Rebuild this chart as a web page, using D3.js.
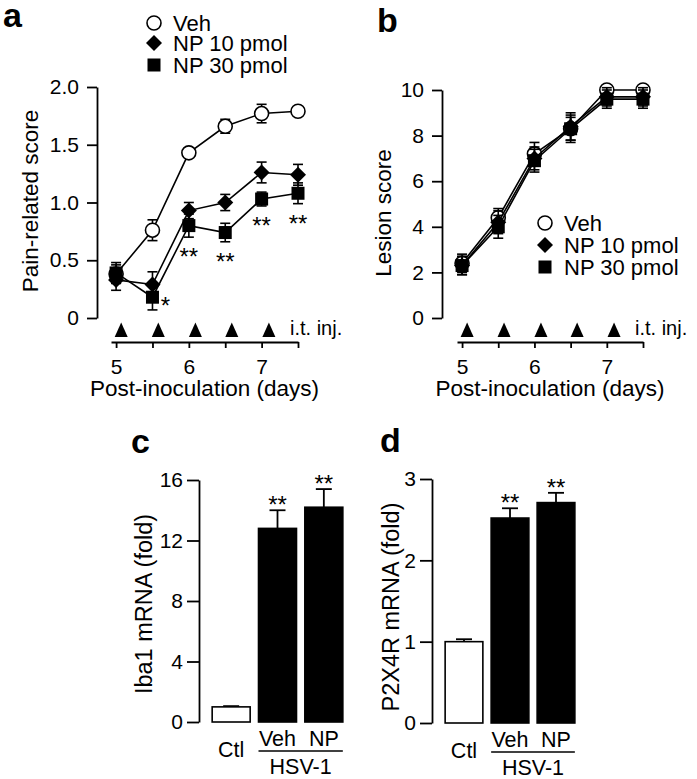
<!DOCTYPE html>
<html>
<head>
<meta charset="utf-8">
<script src="https://cdn.jsdelivr.net/npm/d3@7"></script>
<style>
  body { margin: 0; background: #fff; }
  svg text { font-family: "Liberation Sans", Arial, Helvetica, sans-serif; fill: #000; }
</style>
</head>
<body>
<svg width="697" height="779"></svg>
<script>
// ---- data ----
const days = [5, 5.5, 6, 6.5, 7, 7.5];
const injDays = [5.07, 5.58, 6.09, 6.59, 7.1];
const groups = ["Veh", "NP 10 pmol", "NP 30 pmol"];

const painVeh = [0.38, 0.76, 1.43, 1.66, 1.77, 1.79];
const painVehErr = [0.08, 0.09, 0.03, 0.06, 0.08, 0.03];
const painNP10 = [0.33, 0.29, 0.93, 1.0, 1.26, 1.24];
const painNP10Err = [0.09, 0.11, 0.07, 0.07, 0.09, 0.09];
const painNP30 = [0.39, 0.18, 0.8, 0.74, 1.03, 1.08];
const painNP30Err = [0.09, 0.11, 0.1, 0.08, 0.06, 0.09];
const painStars = ["", "*", "**", "**", "**", "**"];
const painTicks = [0, 0.5, 1, 1.5, 2];
const painTickLabels = ["0", "0.5", "1.0", "1.5", "2.0"];

const lesionVeh = [2.4, 4.4, 7.2, 8.3, 10.0, 10.0];
const lesionVehErr = [0.4, 0.4, 0.5, 0.5, 0.05, 0.05];
const lesionNP10 = [2.3, 4.2, 7.0, 8.4, 9.7, 9.7];
const lesionNP10Err = [0.4, 0.5, 0.5, 0.6, 0.4, 0.4];
const lesionNP30 = [2.3, 4.0, 6.9, 8.3, 9.6, 9.6];
const lesionNP30Err = [0.4, 0.5, 0.5, 0.6, 0.4, 0.4];
const lesionTicks = [0, 2, 4, 6, 8, 10];

const barCats = ["Ctl", "Veh", "NP"];
const iba1 = [1.0, 12.8, 14.2];
const iba1Err = [0.05, 1.2, 1.2];
const iba1Stars = ["", "**", "**"];
const iba1Ticks = [0, 4, 8, 12, 16];
const p2x4r = [1.0, 2.52, 2.71];
const p2x4rErr = [0.03, 0.12, 0.12];
const p2x4rStars = ["", "**", "**"];
const p2x4rTicks = [0, 1, 2, 3];

const svg = d3.select("svg");
const FONT = "'Liberation Sans', Arial, Helvetica, sans-serif";

function styleAxis(g, size) {
  g.attr("font-family", FONT).attr("font-size", size);
  g.select(".domain").attr("stroke", "#000").attr("stroke-width", 1.8);
  g.selectAll(".tick line").attr("stroke", "#000").attr("stroke-width", 1.8);
  g.selectAll(".tick text").attr("fill", "#000");
}

function marker(g, shape, cx, cy, s) {
  if (shape === "circle") {
    g.append("circle").attr("cx", cx).attr("cy", cy).attr("r", s)
      .attr("fill", "#fff").attr("stroke", "#000").attr("stroke-width", 1.6);
  } else if (shape === "diamond") {
    let d = s + 1;
    g.append("path")
      .attr("d", `M${cx},${cy - d}L${cx + d},${cy}L${cx},${cy + d}L${cx - d},${cy}Z`)
      .attr("fill", "#000");
  } else {
    let h = s - 0.5;
    g.append("rect").attr("x", cx - h).attr("y", cy - h)
      .attr("width", 2 * h).attr("height", 2 * h).attr("fill", "#000");
  }
}

function linePanel(o) {
  const g = svg.append("g");
  const x = d3.scaleLinear().domain([4.93, 7.5]).range(o.xRange);
  const y = d3.scaleLinear().domain(o.yDomain).range(o.yRange);

  // y axis
  const ya = g.append("g").attr("transform", `translate(${o.yAxisX},0)`)
    .call(d3.axisLeft(y).tickValues(o.yTicks).tickSize(10).tickSizeOuter(0)
      .tickPadding(8).tickFormat((d, i) => o.yTickLabels[i]));
  styleAxis(ya, 21);

  // x axis
  const xa = g.append("g").attr("transform", `translate(0,${o.xAxisY})`)
    .call(d3.axisBottom(x).tickValues(days).tickSize(6).tickSizeOuter(0)
      .tickPadding(11).tickFormat(d => Number.isInteger(d) ? d : ""));
  styleAxis(xa, 21);

  // injection markers
  g.selectAll("path.inj").data(injDays).enter().append("path")
    .attr("class", "inj")
    .attr("d", d => `M${x(d)},${o.xAxisY - 19.5}L${x(d) + 6.5},${o.xAxisY - 5}L${x(d) - 6.5},${o.xAxisY - 5}Z`)
    .attr("fill", "#000");
  g.append("text").attr("x", x(7.5) - 8).attr("y", o.xAxisY - 7)
    .attr("font-size", 20).text("i.t. inj.");

  // series
  const line = d3.line().x((d, i) => x(days[i])).y(d => y(d));
  o.series.forEach(s => {
    g.append("path").datum(s.vals).attr("d", line)
      .attr("fill", "none").attr("stroke", "#000").attr("stroke-width", 1.6);
    s.vals.forEach((v, i) => {
      const cx = x(days[i]);
      g.append("line").attr("x1", cx).attr("x2", cx)
        .attr("y1", y(v - s.errs[i])).attr("y2", y(v + s.errs[i]))
        .attr("stroke", "#000").attr("stroke-width", 1.6);
      [v - s.errs[i], v + s.errs[i]].forEach(e => {
        g.append("line").attr("x1", cx - 5).attr("x2", cx + 5)
          .attr("y1", y(e)).attr("y2", y(e))
          .attr("stroke", "#000").attr("stroke-width", 1.6);
      });
    });
    s.vals.forEach((v, i) => marker(g, s.shape, x(days[i]), y(v), 7));
  });

  // significance marks
  if (o.stars) {
    const s = o.series[2];
    o.stars.forEach((t, i) => {
      if (!t) return;
      const single = t.length === 1;
      g.append("text")
        .attr("x", single ? x(days[i]) + 13 : x(days[i]))
        .attr("y", single ? y(s.vals[i]) + 17 : y(s.vals[i] - s.errs[i]) + 28)
        .attr("text-anchor", "middle").attr("font-size", 24).attr("fill", "#333")
        .text(t);
    });
  }

  // legend
  const shapes = ["circle", "diamond", "square"];
  groups.forEach((name, i) => {
    const ly = o.legendY[i];
    marker(g, shapes[i], o.legendX, ly, 7);
    g.append("text").attr("x", o.legendX + 19).attr("y", ly + 7.5)
      .attr("font-size", 22).text(name);
  });

  // axis titles
  g.append("text").attr("transform", `translate(${o.yLabelX},${o.yLabelY}) rotate(-90)`)
    .attr("text-anchor", "middle").attr("font-size", 22.5).text(o.yLabel);
  g.append("text").attr("x", (o.xRange[0] + o.xRange[1]) / 2).attr("y", o.xAxisY + 54)
    .attr("text-anchor", "middle").attr("font-size", 22.5).text("Post-inoculation (days)");

  g.append("text").attr("x", o.letterX).attr("y", o.letterY)
    .attr("font-size", 34).attr("font-weight", "bold").text(o.letter);
}

function barPanel(o) {
  const g = svg.append("g");
  const x = d3.scaleBand().domain(barCats).range(o.xRange)
    .paddingInner(0.18).paddingOuter(0.09);
  const y = d3.scaleLinear().domain(o.yDomain).range(o.yRange);

  const ya = g.append("g").attr("transform", `translate(${o.yAxisX},0)`)
    .call(d3.axisLeft(y).tickValues(o.yTicks).tickSize(12).tickSizeOuter(0)
      .tickPadding(4).tickFormat(d3.format("d")));
  styleAxis(ya, 21);

  barCats.forEach((c, i) => {
    const v = o.vals[i], e = o.errs[i];
    const cx = x(c) + x.bandwidth() / 2;
    g.append("line").attr("x1", cx).attr("x2", cx).attr("y1", y(v)).attr("y2", y(v + e))
      .attr("stroke", "#000").attr("stroke-width", 1.8);
    g.append("line").attr("x1", cx - 8).attr("x2", cx + 8).attr("y1", y(v + e)).attr("y2", y(v + e))
      .attr("stroke", "#000").attr("stroke-width", 1.8);
    g.append("rect").attr("x", x(c)).attr("y", y(v))
      .attr("width", x.bandwidth()).attr("height", y(0) - y(v))
      .attr("fill", i === 0 ? "#fff" : "#000").attr("stroke", "#000").attr("stroke-width", 1.6);
    if (o.stars[i]) {
      g.append("text").attr("x", cx).attr("y", y(v + e) + 3)
        .attr("text-anchor", "middle").attr("font-size", 24).attr("fill", "#333").text(o.stars[i]);
    }
    g.append("text").attr("x", cx).attr("y", i === 0 ? o.yRange[0] + 35 : o.yRange[0] + 24)
      .attr("text-anchor", "middle").attr("font-size", 21.5).text(c);
  });

  const x1 = x("Veh"), x2 = x("NP") + x.bandwidth();
  g.append("line").attr("x1", x1).attr("x2", x2)
    .attr("y1", o.yRange[0] + 29).attr("y2", o.yRange[0] + 29)
    .attr("stroke", "#000").attr("stroke-width", 1.6);
  g.append("text").attr("x", (x1 + x2) / 2).attr("y", o.yRange[0] + 52)
    .attr("text-anchor", "middle").attr("font-size", 21.5).text("HSV-1");

  g.append("text").attr("transform", `translate(${o.yLabelX},${o.yLabelY}) rotate(-90)`)
    .attr("text-anchor", "middle").attr("font-size", 23.5).text(o.yLabel);

  g.append("text").attr("x", o.letterX).attr("y", o.letterY)
    .attr("font-size", 34).attr("font-weight", "bold").text(o.letter);
}

linePanel({
  xRange: [111, 298], yRange: [318, 87], yDomain: [0, 2],
  yTicks: painTicks, yTickLabels: painTickLabels,
  yAxisX: 97, xAxisY: 342,
  series: [
    { vals: painVeh, errs: painVehErr, shape: "circle" },
    { vals: painNP10, errs: painNP10Err, shape: "diamond" },
    { vals: painNP30, errs: painNP30Err, shape: "square" }
  ],
  stars: painStars,
  legendX: 154, legendY: [23, 43, 65],
  yLabel: "Pain-related score", yLabelX: 38, yLabelY: 201,
  letter: "a", letterX: 3, letterY: 27
});

linePanel({
  xRange: [457, 643], yRange: [318, 90], yDomain: [0, 10],
  yTicks: lesionTicks, yTickLabels: lesionTicks.map(String),
  yAxisX: 442, xAxisY: 342,
  series: [
    { vals: lesionVeh, errs: lesionVehErr, shape: "circle" },
    { vals: lesionNP10, errs: lesionNP10Err, shape: "diamond" },
    { vals: lesionNP30, errs: lesionNP30Err, shape: "square" }
  ],
  stars: null,
  legendX: 545, legendY: [223, 245, 267],
  yLabel: "Lesion score", yLabelX: 391, yLabelY: 213,
  letter: "b", letterX: 377, letterY: 32
});

barPanel({
  xRange: [208, 347], yRange: [722, 480], yDomain: [0, 16],
  yTicks: iba1Ticks, yAxisX: 199,
  vals: iba1, errs: iba1Err, stars: iba1Stars,
  yLabel: "Iba1 mRNA (fold)", yLabelX: 152, yLabelY: 604,
  letter: "c", letterX: 131, letterY: 453
});

barPanel({
  xRange: [441, 579], yRange: [723, 479], yDomain: [0, 3],
  yTicks: p2x4rTicks, yAxisX: 432,
  vals: p2x4r, errs: p2x4rErr, stars: p2x4rStars,
  yLabel: "P2X4R mRNA (fold)", yLabelX: 399, yLabelY: 607,
  letter: "d", letterX: 380, letterY: 452
});
</script>
</body>
</html>
